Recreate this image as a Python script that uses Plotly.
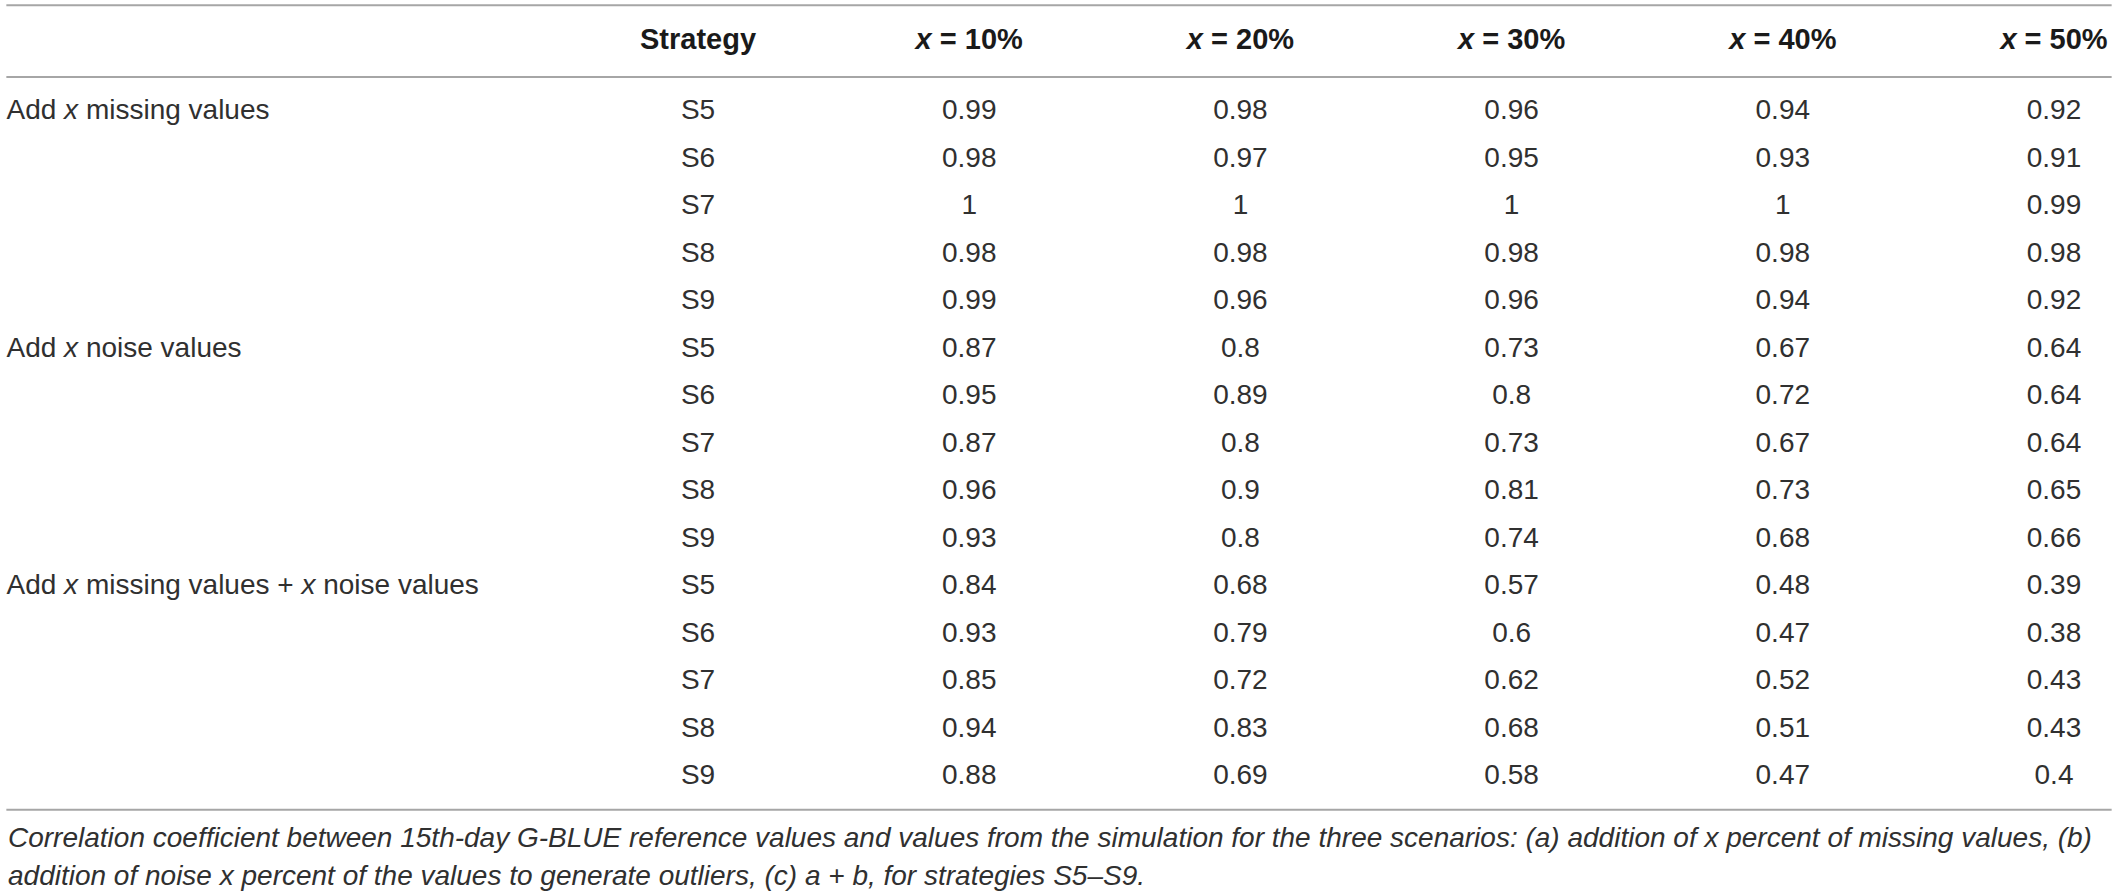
import plotly.graph_objects as go

# table content
groups = ["Add <i>x</i> missing values",
          "Add <i>x</i> noise values",
          "Add <i>x</i> missing values + <i>x</i> noise values"]
strategies = ["S5", "S6", "S7", "S8", "S9"]
headers = ["Strategy", "<i>x</i> = 10%", "<i>x</i> = 20%", "<i>x</i> = 30%",
           "<i>x</i> = 40%", "<i>x</i> = 50%"]

x10 = [0.99, 0.98, 1, 0.98, 0.99, 0.87, 0.95, 0.87, 0.96, 0.93, 0.84, 0.93, 0.85, 0.94, 0.88]
x20 = [0.98, 0.97, 1, 0.98, 0.96, 0.8, 0.89, 0.8, 0.9, 0.8, 0.68, 0.79, 0.72, 0.83, 0.69]
x30 = [0.96, 0.95, 1, 0.98, 0.96, 0.73, 0.8, 0.73, 0.81, 0.74, 0.57, 0.6, 0.62, 0.68, 0.58]
x40 = [0.94, 0.93, 1, 0.98, 0.94, 0.67, 0.72, 0.67, 0.73, 0.68, 0.48, 0.47, 0.52, 0.51, 0.47]
x50 = [0.92, 0.91, 0.99, 0.98, 0.92, 0.64, 0.64, 0.64, 0.65, 0.66, 0.39, 0.38, 0.43, 0.43, 0.4]

caption_1 = ("Correlation coefficient between 15th-day G-BLUE reference values and values from the "
             "simulation for the three scenarios: (a) addition of x percent of missing values, (b)")
caption_2 = ("addition of noise x percent of the values to generate outliers, (c) a + b, "
             "for strategies S5–S9.")

TXT = "#303030"
LINE = "#a6a6a6"
FONT = "Liberation Sans"

n_rows = len(groups) * len(strategies)
rows = list(range(n_rows))
strat_col = [s for g in groups for s in strategies]
value_cols = [x10, x20, x30, x40, x50]

# layout positions (column index / row index units)
label_x = -1.55
header_y = -1.474
top_line_y = -2.25
head_line_y = -0.737
bottom_line_y = 14.69

fig = go.Figure()

# group labels
fig.add_trace(go.Scatter(
    x=[label_x] * len(groups), y=[i * len(strategies) for i in range(len(groups))],
    text=groups, mode="text", textposition="middle right",
    textfont=dict(family=FONT, size=28, color=TXT), hoverinfo="skip"))

# strategy column
fig.add_trace(go.Scatter(
    x=[1] * n_rows, y=rows, text=strat_col, mode="text", textposition="middle center",
    textfont=dict(family=FONT, size=28, color=TXT), hoverinfo="skip"))

# value columns
for k, vals in enumerate(value_cols):
    fig.add_trace(go.Scatter(
        x=[k + 2] * n_rows, y=rows, text=[f"{v:g}" for v in vals],
        mode="text", textposition="middle center",
        textfont=dict(family=FONT, size=28, color=TXT), hoverinfo="skip"))

# header row
fig.add_trace(go.Scatter(
    x=list(range(1, len(headers) + 1)), y=[header_y] * len(headers),
    text=["<b>" + h + "</b>" for h in headers], mode="text", textposition="middle center",
    textfont=dict(family=FONT, size=29, color="#1a1a1a"), hoverinfo="skip"))

for yl in [top_line_y, head_line_y, bottom_line_y]:
    fig.add_shape(type="line", xref="paper", x0=0.003, x1=0.997, y0=yl, y1=yl,
                  line=dict(color=LINE, width=2))

fig.add_annotation(text="<i>" + caption_1 + "</i>", xref="paper", x=0.003, xanchor="left",
                   y=15.28, yanchor="middle", showarrow=False,
                   font=dict(family=FONT, size=28, color=TXT))
fig.add_annotation(text="<i>" + caption_2 + "</i>", xref="paper", x=0.003, xanchor="left",
                   y=16.07, yanchor="middle", showarrow=False,
                   font=dict(family=FONT, size=28, color=TXT))

fig.update_layout(
    width=2118, height=896,
    margin=dict(l=0, r=0, t=0, b=0),
    paper_bgcolor="white", plot_bgcolor="white",
    showlegend=False,
    xaxis=dict(range=[-1.574, 6.236], visible=False, fixedrange=True),
    yaxis=dict(range=[16.505, -2.358], visible=False, fixedrange=True),
)

fig.write_html("out.html", config={"displayModeBar": False},
               post_script="document.body.style.margin='0';")
